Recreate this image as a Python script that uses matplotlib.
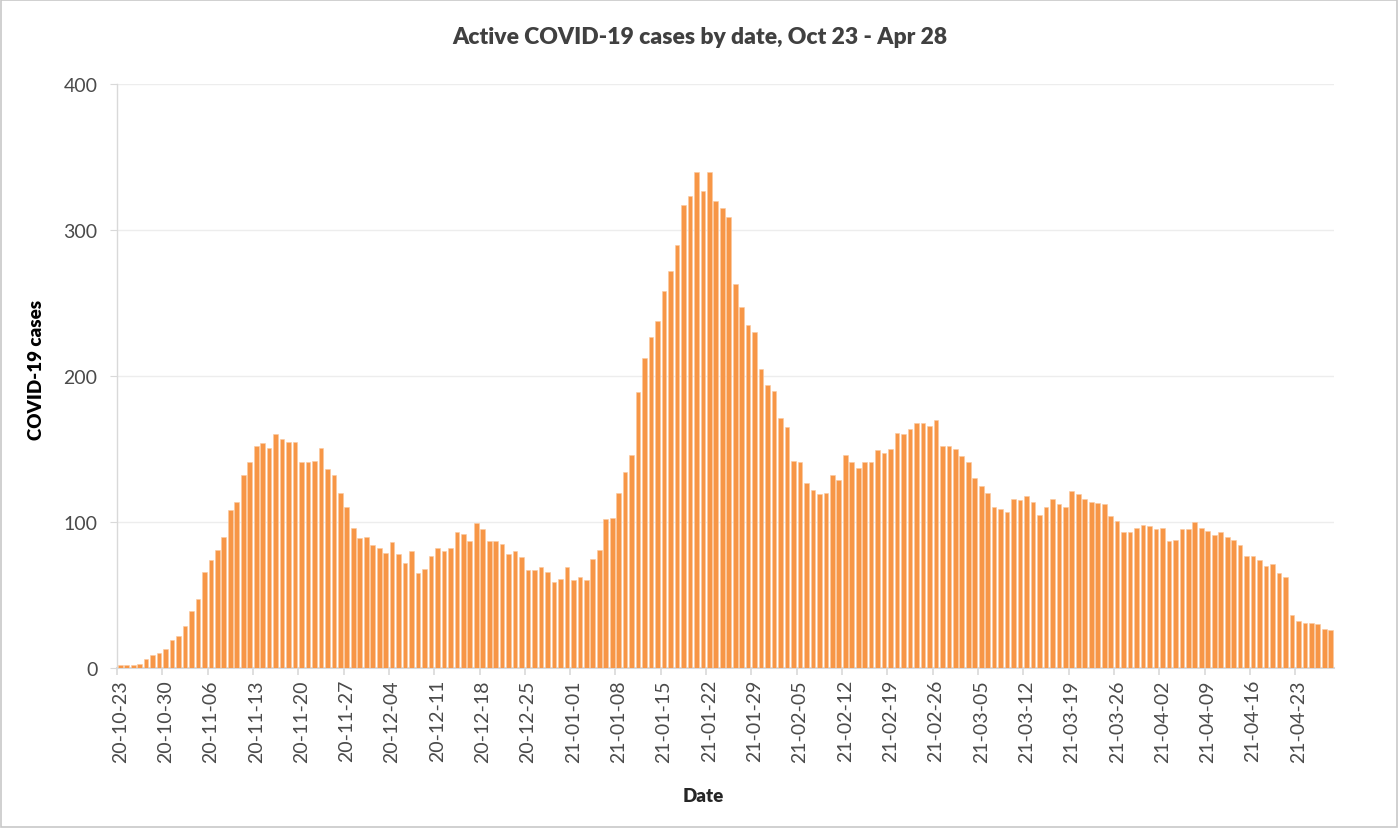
import matplotlib
matplotlib.use("Agg")
import matplotlib.pyplot as plt
from matplotlib.patches import Rectangle
import pandas as pd
import numpy as np

start_date = "2020-10-23"
end_date = "2021-04-28"

active_cases = [
    2, 2, 2, 3, 6, 9, 10, 13, 19, 22,
    29, 39, 47, 66, 74, 81, 90, 108, 114, 132,
    141, 152, 154, 151, 160, 157, 155, 155, 141, 141,
    142, 151, 136, 132, 120, 110, 96, 89, 90, 84,
    82, 79, 86, 78, 72, 80, 65, 68, 77, 82,
    80, 82, 93, 92, 87, 99, 95, 87, 87, 85,
    78, 80, 76, 67, 67, 69, 66, 59, 61, 69,
    60, 62, 60, 75, 81, 102, 103, 120, 134, 146,
    189, 212, 227, 238, 258, 272, 290, 317, 323, 340,
    327, 340, 320, 315, 309, 263, 247, 235, 230, 205,
    194, 190, 171, 165, 142, 141, 127, 122, 119, 120,
    132, 129, 146, 141, 137, 141, 141, 149, 147, 150,
    161, 160, 164, 168, 168, 166, 170, 152, 152, 150,
    145, 141, 130, 125, 120, 110, 109, 107, 116, 115,
    118, 114, 105, 110, 116, 112, 110, 121, 119, 116,
    114, 113, 112, 104, 101, 93, 93, 96, 98, 97,
    95, 96, 87, 88, 95, 95, 100, 96, 94, 91,
    93, 90, 88, 84, 77, 77, 74, 70, 71, 65,
    62, 36, 32, 31, 31, 30, 27, 26,
]

title = "Active COVID-19 cases by date, Oct 23 - Apr 28"
x_label = "Date"
y_label = "COVID-19 cases"
y_ticks = [0, 100, 200, 300, 400]

dates = pd.date_range(start_date, end_date, freq="D")
labels = [d.strftime("%y-%m-%d") for d in dates]
n = len(active_cases)
x = np.arange(n)

FONT = ["Lato", "DejaVu Sans"]
plt.rcParams["font.family"] = FONT

fig = plt.figure(figsize=(13.99, 8.29), dpi=100)
fig.patches.append(Rectangle((0.0005, 0.0008), 0.998, 0.998, transform=fig.transFigure,
                             fill=False, edgecolor="#C8C8C8", linewidth=1.2))
ax = fig.add_axes([117/1399, 1-669/829, (1334-117)/1399, (669-85)/829])

ax.bar(x, active_cases, width=0.72, color="#F79646", edgecolor="#FBC9A0", linewidth=0.4, zorder=3)

ax.set_xlim(-0.5, n - 0.5)
ax.set_ylim(0, 400)
ax.set_yticks(y_ticks)
ax.set_yticklabels([str(v) for v in y_ticks], fontsize=14, color="#4A4A4A")
ax.yaxis.grid(True, color="#EDEDED", linewidth=1, zorder=0)
ax.tick_params(axis="y", length=5, color="#D9D9D9", pad=9)

# tick marks at category boundaries, labels at category centers
ax.set_xticks(np.arange(-0.5, n, 7))
ax.set_xticklabels([])
ax.tick_params(axis="x", which="major", length=5, color="#D9D9D9", width=1.2)
ax.set_xticks(np.arange(0, n, 7), minor=True)
ax.set_xticklabels([labels[i] for i in range(0, n, 7)], minor=True, rotation=90,
                   fontsize=14, color="#4A4A4A")
ax.tick_params(axis="x", which="minor", length=0, pad=8)

for s in ["top", "right"]:
    ax.spines[s].set_visible(False)
ax.spines["left"].set_color("#D9D9D9")
ax.spines["bottom"].set_color("#D9D9D9")
ax.spines["bottom"].set_linewidth(1.5)
ax.spines["left"].set_linewidth(1.0)

fig.text(700/1399, 1 - 38/829, title, ha="center", va="center",
         fontsize=16.5, fontweight="heavy", color="#404040")
fig.text(703/1399, 1 - 797/829, x_label, ha="center", va="center",
         fontsize=13.5, fontweight="heavy", color="#262626")
fig.text(36/1399, 1 - 370/829, y_label, ha="center", va="center", rotation=90,
         fontsize=13.5, fontweight="heavy", color="#000000")

fig.savefig("out.png", dpi=100)
